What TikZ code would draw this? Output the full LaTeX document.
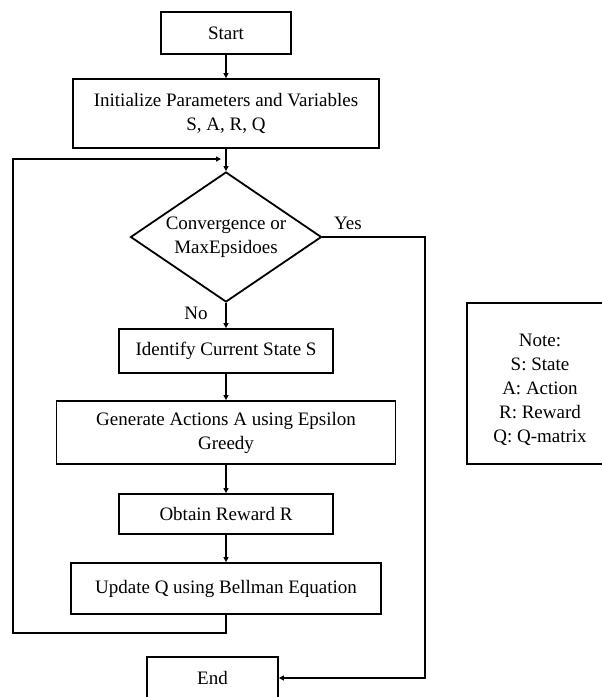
\documentclass[tikz,border=0pt]{standalone}
\usepackage{fontspec}
\setmainfont{Liberation Serif}
\usetikzlibrary{arrows.meta,shapes.geometric}

\begin{document}
\begin{tikzpicture}[x=1pt,y=-1pt,line width=1.8pt,
    font=\fontsize{19}{24}\selectfont]
\useasboundingbox (0,0) rectangle (602,697);
\clip (0,0) rectangle (602,697);
\begin{scope}[every node/.style={rectangle,draw,inner sep=0pt,align=center}]
    \node[minimum width=130pt,minimum height=42pt] (start) at (226,33) {Start};
    \node[minimum width=306pt,minimum height=69pt] (init) at (226,113.5) {Initialize Parameters and Variables\\S, A, R, Q};
    \node[diamond,aspect=1.47,minimum width=191pt,minimum height=130pt] (dec) at (226,237) {Convergence or\\MaxEpsidoes};
    \node[minimum width=214pt,minimum height=44pt] (ident) at (226,351) {Identify Current State S};
    \node[minimum width=339pt,minimum height=63pt] (gen) at (226,432.5) {Generate Actions A using Epsilon\\Greedy};
    \node[minimum width=214pt,minimum height=40pt] (obtain) at (226,514) {Obtain Reward R};
    \node[minimum width=310pt,minimum height=51pt] (update) at (226,588.5) {Update Q using Bellman Equation};
    \node[minimum width=131pt,minimum height=42pt] (stop) at (212.5,678) {End};
    \node[minimum width=146pt,minimum height=161pt] (note) at (540,383.5) {\rule{0pt}{26pt}Note:\\S: State\\A: Action\\R: Reward\\Q: Q-matrix};
\end{scope}
\node (yes) at (348,223) {Yes};
\node (no) at (196,313) {No};
\coordinate (lb) at (13,633);
\coordinate (lt) at (13,159);
\coordinate (lj) at (221,159);
\coordinate (yr) at (425,237);
\begin{scope}[every path/.style={draw=black,-{Triangle[length=5pt,width=5pt]}}]
    \path (start) -- (init);
    \path (init) -- (dec);
    \path (dec) -- (ident);
    \path (ident) -- (gen);
    \path (gen) -- (obtain);
    \path (obtain) -- (update);
    \path (update.south) |- (lb) -- (lt) -- (lj);
    \path (dec.east) -- (yr) |- (stop.east);
\end{scope}
\end{tikzpicture}
\end{document}
